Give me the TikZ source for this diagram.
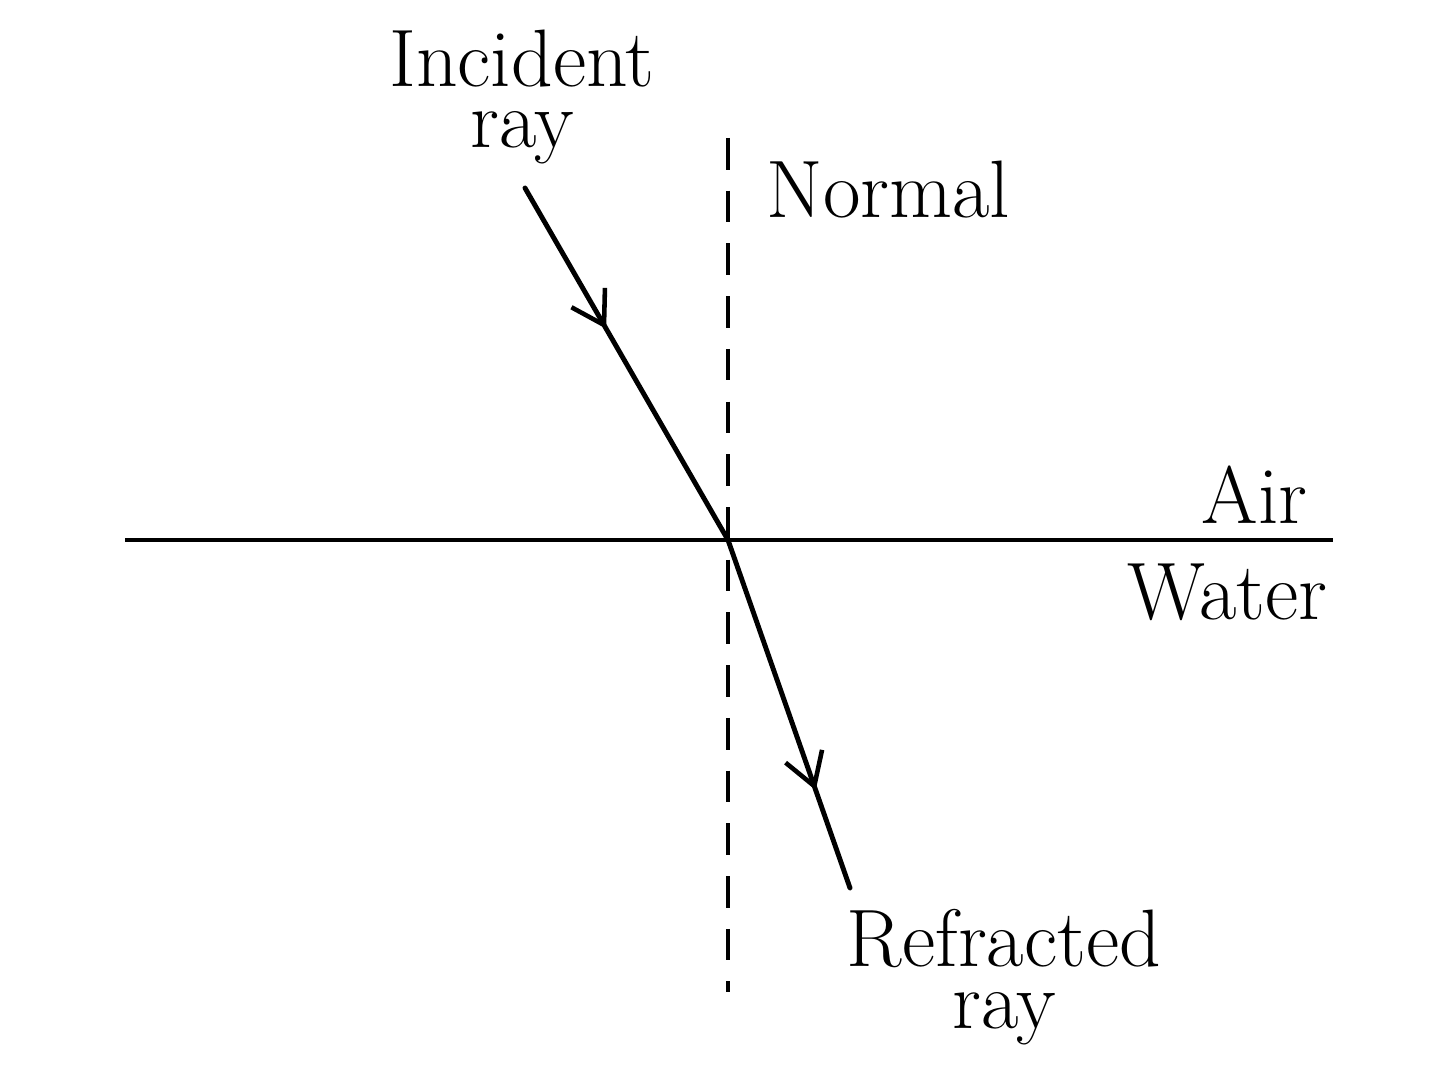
\documentclass[tikz,border=0pt]{standalone}
\usetikzlibrary{arrows.meta, decorations.markings}

\tikzset{
  ray/.style={line width=1.4pt, line cap=round},
  label/.style={font=\fontsize{23.2}{17.5}\selectfont, align=center, inner sep=0pt},
  midarrow/.style={postaction={decorate}, decoration={markings,
      mark=at position #1 with {\arrow{Straight Barb[length=9pt, width=11pt, line width=1.3pt]}}}}
}

\begin{document}
\begin{tikzpicture}[x=1cm, y=1cm]
  \useasboundingbox (0, 0) rectangle (14.4, 10.77);

  % Points
  \coordinate (O)     at (7.28, 5.37);
  \coordinate (start) at (5.25, 8.89);
  \coordinate (stop)  at (8.50, 1.89);

  % Interface and normal
  \draw[line width=0.9pt] (1.25, 5.37) -- (13.33, 5.37);
  \draw[line width=1.2pt, dash pattern=on 9pt off 6pt] (7.28, 9.39) -- (7.28, 0.85);

  % Rays
  \draw[ray, midarrow=0.40] (start) -- (O);
  \draw[ray, midarrow=0.72] (O) -- (stop);

  % Labels
  \node[label] (incident) at (5.22, 9.80) {Incident\\ray};
  \node[label, anchor=west] (normal) at (7.66, 8.87) {Normal};
  \node[label, anchor=east] (air) at (13.08, 5.82) {Air};
  \node[label, anchor=east] (water) at (13.28, 4.85) {Water};
  \node[label] (refracted) at (10.04, 1.00) {Refracted\\ray};
\end{tikzpicture}
\end{document}
